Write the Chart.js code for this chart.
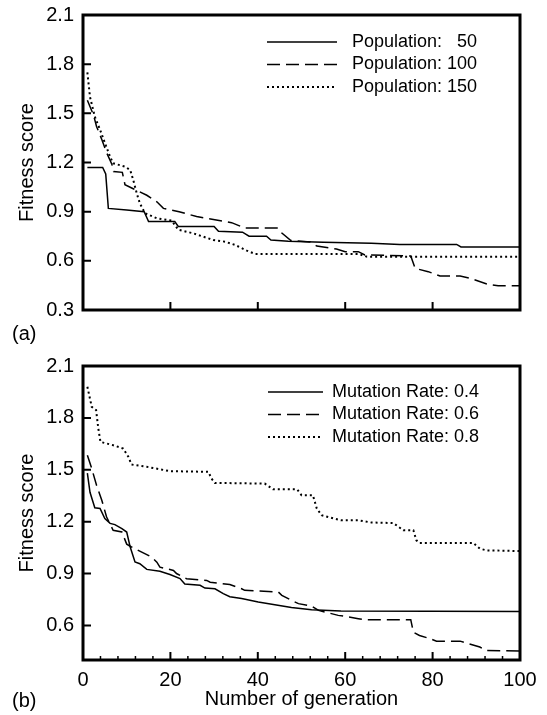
<!DOCTYPE html>
<html>
<head>
<meta charset="utf-8">
<script src="https://cdn.jsdelivr.net/npm/chart.js@4"></script>
<style>
  body { margin: 0; background: #fff; width: 547px; height: 715px; position: relative; overflow: hidden;
         font-family: "Liberation Sans", Arial, sans-serif; }
  canvas { position: absolute; left: 0; }
  #chart-a { top: 0; }
  #chart-b { top: 355px; }
  .tag { position: absolute; left: 12px; font-size: 20px; line-height: 20px; color: #000; }
</style>
</head>
<body>
<canvas id="chart-a" width="547" height="345"></canvas>
<canvas id="chart-b" width="547" height="360"></canvas>
<div class="tag" style="top:323px">(a)</div>
<div class="tag" style="top:690px">(b)</div>
<script>
// panel (a): population size
const popLabels = ['Population: 50', 'Population: 100', 'Population: 150'];
const popGen50  = [1, 4.5, 5.2, 5.8, 10, 14, 15, 21, 21.8, 30, 31, 36.5, 38, 42, 43, 47, 55, 66, 72.5, 85.5, 86.5, 100];
const popFit50  = [1.17, 1.17, 1.13, 0.92, 0.91, 0.90, 0.84, 0.84, 0.81, 0.81, 0.78, 0.775, 0.75, 0.75, 0.727, 0.72, 0.713, 0.707, 0.70, 0.70, 0.685, 0.685];
const popGen100 = [1, 2.4, 3.1, 4.3, 5.4, 6.6, 7, 9, 9.6, 11.5, 14.6, 16.9, 18.4, 22, 26, 32.5, 34, 37, 44.6, 45.5, 47.5, 52, 53.5, 58, 60, 63, 64.5, 75, 76, 79, 81.7, 86.3, 88.6, 92.4, 95, 100];
const popFit100 = [1.58, 1.49, 1.42, 1.34, 1.26, 1.19, 1.145, 1.14, 1.065, 1.04, 1.0, 0.96, 0.92, 0.90, 0.87, 0.84, 0.833, 0.80, 0.80, 0.77, 0.725, 0.715, 0.69, 0.672, 0.656, 0.656, 0.636, 0.63, 0.554, 0.534, 0.507, 0.507, 0.493, 0.459, 0.448, 0.448];
const popGen150 = [1, 1.6, 2.7, 3.9, 5, 6.2, 6.9, 9.6, 10.8, 11.5, 12.3, 13, 14.2, 16.9, 20.3, 21.8, 25.2, 29.8, 32.5, 34.8, 37.5, 39.4, 63, 65, 100];
const popFit150 = [1.75, 1.60, 1.48, 1.40, 1.32, 1.235, 1.195, 1.175, 1.154, 1.093, 1.012, 0.951, 0.89, 0.86, 0.845, 0.79, 0.768, 0.727, 0.717, 0.697, 0.662, 0.642, 0.642, 0.625, 0.625];

// panel (b): mutation rate
const mutLabels = ['Mutation Rate: 0.4', 'Mutation Rate: 0.6', 'Mutation Rate: 0.8'];
const mutGen04 = [1, 1.6, 2.7, 3.9, 5, 6.2, 7.3, 8.9, 10, 10.8, 11.9, 13, 14.6, 17.6, 19.9, 22.2, 23.3, 26.8, 27.9, 30.2, 32.1, 33.6, 36.3, 40.1, 43.9, 47.7, 52.3, 59, 100];
const mutFit04 = [1.48, 1.37, 1.28, 1.276, 1.218, 1.19, 1.183, 1.16, 1.14, 1.053, 0.967, 0.957, 0.924, 0.913, 0.894, 0.871, 0.839, 0.832, 0.816, 0.812, 0.784, 0.766, 0.755, 0.735, 0.72, 0.703, 0.691, 0.683, 0.681];
const mutGen06 = [1, 2, 3.1, 4.3, 5.4, 6.9, 8.9, 10, 11, 15.7, 16.9, 17.6, 20.7, 21.4, 22.9, 23.7, 28.3, 29.1, 33.6, 36.3, 37, 44.7, 45.5, 47.7, 49.3, 52.3, 53.9, 58.4, 60, 63, 64.5, 75, 75.6, 77, 79.4, 80.9, 86.3, 87.8, 90.8, 92.3, 100];
const mutFit06 = [1.584, 1.507, 1.41, 1.324, 1.227, 1.15, 1.14, 1.07, 1.055, 0.995, 0.966, 0.937, 0.918, 0.90, 0.88, 0.87, 0.86, 0.85, 0.836, 0.812, 0.803, 0.793, 0.774, 0.745, 0.726, 0.712, 0.687, 0.658, 0.652, 0.639, 0.633, 0.633, 0.561, 0.542, 0.523, 0.509, 0.509, 0.498, 0.475, 0.455, 0.452];
const mutGen08 = [1, 2, 3, 3.5, 4, 6.9, 9.2, 10.4, 11.1, 14.6, 19.9, 28.7, 29.4, 30.2, 41.6, 43.5, 49, 50, 52.6, 53.5, 54.6, 59, 63, 66, 71, 73.3, 75.6, 76.3, 77, 89.3, 90.8, 92.3, 100];
const mutFit08 = [1.98, 1.864, 1.845, 1.739, 1.661, 1.642, 1.623, 1.574, 1.53, 1.517, 1.492, 1.488, 1.449, 1.424, 1.42, 1.387, 1.387, 1.353, 1.353, 1.276, 1.237, 1.208, 1.208, 1.195, 1.192, 1.15, 1.15, 1.092, 1.077, 1.077, 1.044, 1.034, 1.03];

// axis ticks
const xTicks = [0, 20, 40, 60, 80, 100];
const xMinorTicks = [4, 8, 12, 16, 24, 28, 32, 36, 44, 48, 52, 56, 64, 68, 72, 76, 84, 88, 92, 96];
const yTicksA = [0.3, 0.6, 0.9, 1.2, 1.5, 1.8, 2.1];
const yTicksB = [0.6, 0.9, 1.2, 1.5, 1.8, 2.1];

const FONT = '"Liberation Sans", Arial, sans-serif';
const DASHES = [[], [13, 6], [2, 3]];

function toPoints(xs, ys) {
    return xs.map((x, i) => ({ x: x, y: ys[i] }));
}

function makeDatasets(labels, gens, fits) {
    return labels.map((label, i) => ({
        label: label,
        data: toPoints(gens[i], fits[i]),
        borderColor: '#000',
        borderWidth: i === 2 ? 2 : 1.5,
        borderDash: DASHES[i],
        pointRadius: 0,
        tension: 0,
        fill: false
    }));
}

// frame, inward ticks and the in-plot legend
const framePlugin = {
    id: 'frame',
    afterDatasetsDraw(chart, args, opts) {
        const ctx = chart.ctx;
        const area = chart.chartArea;
        const xs = chart.scales.x;
        const ys = chart.scales.y;
        ctx.save();
        ctx.strokeStyle = '#000';
        ctx.setLineDash([]);
        ctx.lineWidth = 2;
        ctx.beginPath();
        ys.ticks.forEach(t => {
            const py = ys.getPixelForValue(t.value);
            ctx.moveTo(area.left, py);
            ctx.lineTo(area.left + 8, py);
        });
        xs.ticks.forEach(t => {
            const px = xs.getPixelForValue(t.value);
            ctx.moveTo(px, area.bottom);
            ctx.lineTo(px, area.bottom - 8);
        });
        ctx.stroke();
        ctx.lineWidth = 1.5;
        ctx.beginPath();
        opts.minor.forEach(v => {
            const px = xs.getPixelForValue(v);
            ctx.moveTo(px, area.bottom);
            ctx.lineTo(px, area.bottom - 4);
        });
        ctx.stroke();
        ctx.lineWidth = 3;
        ctx.strokeRect(area.left, area.top, area.right - area.left, area.bottom - area.top);

        const lg = opts.legend;
        ctx.font = '18px ' + FONT;
        ctx.fillStyle = '#000';
        ctx.textBaseline = 'middle';
        chart.data.datasets.forEach((ds, i) => {
            const y = area.top + lg.top + i * lg.step;
            ctx.lineWidth = ds.borderWidth;
            ctx.setLineDash(ds.borderDash);
            ctx.beginPath();
            ctx.moveTo(area.right - lg.lineFrom, y);
            ctx.lineTo(area.right - lg.lineTo, y);
            ctx.stroke();
            ctx.textAlign = 'left';
            if (lg.numAt) {
                // numbers right aligned under each other
                const cut = ds.label.lastIndexOf(' ');
                ctx.fillText(ds.label.slice(0, cut), area.right - lg.textAt, y);
                ctx.textAlign = 'right';
                ctx.fillText(ds.label.slice(cut + 1), area.right - lg.numAt, y);
            } else {
                ctx.fillText(ds.label, area.right - lg.textAt, y);
            }
        });
        ctx.restore();
    }
};

function noOverflow(s) {
    s.paddingTop = 0;
    s.paddingBottom = 0;
    s.paddingLeft = 0;
    s.paddingRight = 0;
}

function buildOptions(yMin, yMax, yTicks, showX, padTop, xHeight, minor, legend) {
    return {
        responsive: false,
        animation: false,
        events: [],
        layout: { padding: { top: padTop, right: 27, left: 0, bottom: 0 } },
        scales: {
            x: {
                type: 'linear',
                min: 0,
                max: 100,
                grid: { display: false, drawTicks: false, tickLength: 0 },
                border: { display: false },
                afterBuildTicks: s => { s.ticks = xTicks.map(v => ({ value: v })); },
                afterFit: s => { s.height = xHeight; noOverflow(s); },
                ticks: {
                    display: showX,
                    maxRotation: 0,
                    padding: 8,
                    color: '#000',
                    font: { family: FONT, size: 20 },
                    callback: v => String(v)
                },
                title: {
                    display: showX,
                    text: 'Number of generation',
                    color: '#000',
                    font: { family: FONT, size: 20 },
                    padding: { top: 3, bottom: 4 }
                }
            },
            y: {
                type: 'linear',
                min: yMin,
                max: yMax,
                grid: { display: false, drawTicks: false, tickLength: 0 },
                border: { display: false },
                afterBuildTicks: s => { s.ticks = yTicks.map(v => ({ value: v })); },
                afterFit: s => { s.width = 83; noOverflow(s); },
                ticks: {
                    padding: 9,
                    color: '#000',
                    font: { family: FONT, size: 20 },
                    callback: v => Number(v).toFixed(1)
                },
                title: {
                    display: true,
                    text: 'Fitness score',
                    color: '#000',
                    font: { family: FONT, size: 20 },
                    padding: { top: 15, bottom: 0 }
                }
            }
        },
        plugins: {
            legend: { display: false },
            tooltip: { enabled: false },
            frame: { minor: minor, legend: legend }
        }
    };
}

function initializeCharts() {
    new Chart(document.getElementById('chart-a'), {
        type: 'line',
        data: {
            datasets: makeDatasets(popLabels,
                [popGen50, popGen100, popGen150],
                [popFit50, popFit100, popFit150])
        },
        options: buildOptions(0.3, 2.1, yTicksA, false, 15, 35, [],
            { lineFrom: 253, lineTo: 183, textAt: 168, numAt: 43, top: 27, step: 22.5 }),
        plugins: [framePlugin]
    });

    new Chart(document.getElementById('chart-b'), {
        type: 'line',
        data: {
            datasets: makeDatasets(mutLabels,
                [mutGen04, mutGen06, mutGen08],
                [mutFit04, mutFit06, mutFit08])
        },
        options: buildOptions(0.4, 2.1, yTicksB, true, 11, 55, xMinorTicks,
            { lineFrom: 252, lineTo: 197, textAt: 188, numAt: 0, top: 26, step: 22.5 }),
        plugins: [framePlugin]
    });
}

initializeCharts();
</script>
</body>
</html>
